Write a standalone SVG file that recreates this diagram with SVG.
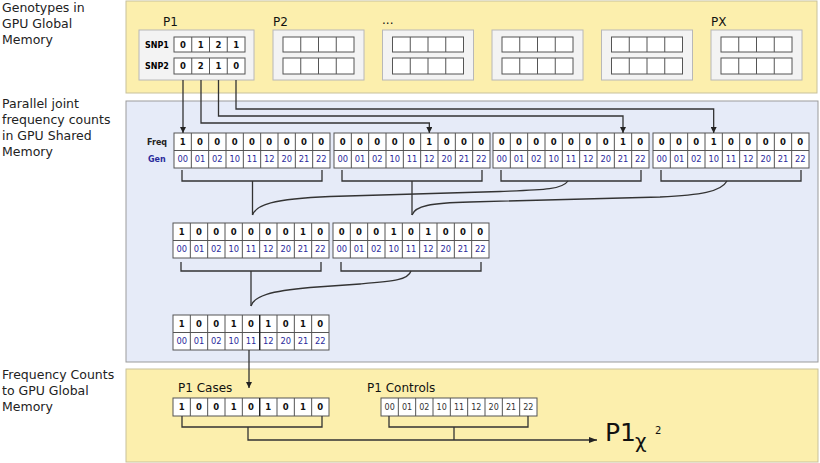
<svg xmlns="http://www.w3.org/2000/svg" xmlns:xlink="http://www.w3.org/1999/xlink" width="820" height="463" viewBox="0 0 820 463">
<style>
text{font-family:"DejaVu Sans","Liberation Sans",sans-serif}
.side{font-size:12.5px;fill:#222}
.plab{font-size:12px;fill:#111}
.v{font-size:8.5px;font-weight:bold;fill:#111;text-anchor:middle}
.g{font-size:8.3px;fill:#2b2b9c;text-anchor:middle}
.c{font-size:8px;fill:#333;text-anchor:middle}
.lbl{font-size:8px;font-weight:bold}
.grid rect{fill:#fff;stroke:#555;stroke-width:1}
.grid path{fill:none;stroke:#555;stroke-width:1}
.con{fill:none;stroke:#333;stroke-width:1.3}
.pbox{fill:#f3f3f3;stroke:#b8b8b8;stroke-width:1}
</style>
<defs>
<g id="g9" class="grid"><rect x="0" y="0" width="156" height="35"/><path d="M0 17.5H156M17.33 0V35M34.67 0V35M52 0V35M69.33 0V35M86.67 0V35M104 0V35M121.33 0V35M138.67 0V35"/></g>
<g id="g9s" class="grid"><rect x="0" y="0" width="156" height="18"/><path d="M17.33 0V18M34.67 0V18M52 0V18M69.33 0V18M86.67 0V18M104 0V18M121.33 0V18M138.67 0V18"/></g>
<g id="g4" class="grid"><rect x="0" y="0" width="71" height="15"/><rect x="0" y="21" width="71" height="16"/><path d="M17.75 0V15M35.5 0V15M53.25 0V15M17.75 21V37M35.5 21V37M53.25 21V37"/></g>
<marker id="ah" viewBox="0 0 6 6" refX="6" refY="3" markerWidth="6" markerHeight="6" markerUnits="userSpaceOnUse" orient="auto"><path d="M0 0L6 3L0 6z" fill="#222"/></marker>
<marker id="ahb" viewBox="0 0 8 6" refX="8" refY="3" markerWidth="8" markerHeight="6" markerUnits="userSpaceOnUse" orient="auto"><path d="M0 0L8 3L0 6z" fill="#222"/></marker>
</defs>

<g id="panels">
<rect x="126" y="1" width="691" height="92" fill="#fcefad" stroke="#c8c19c"/>
<rect x="126" y="101" width="692" height="261" fill="#e6ebf8" stroke="#9b9b9b"/>
<rect x="126" y="369" width="692" height="93" fill="#fcefad" stroke="#c8c19c"/>
</g>

<g id="side-labels">
<text class="side" x="2" y="12">Genotypes in</text>
<text class="side" x="2" y="28">GPU Global</text>
<text class="side" x="2" y="44">Memory</text>
<text class="side" x="2" y="108">Parallel joint</text>
<text class="side" x="2" y="124">frequency counts</text>
<text class="side" x="2" y="140">in GPU Shared</text>
<text class="side" x="2" y="156">Memory</text>
<text class="side" x="2" y="379">Frequency Counts</text>
<text class="side" x="2" y="395">to GPU Global</text>
<text class="side" x="2" y="411">Memory</text>
</g>

<g id="p1">
<text class="plab" x="163" y="25.5">P1</text>
<rect class="pbox" x="139" y="30" width="115" height="50"/>
<text class="lbl" x="145" y="47.5">SNP1</text>
<text class="lbl" x="145" y="69">SNP2</text>
<use href="#g4" x="174" y="37"/>
<text class="v" x="182.9" y="47.5">0</text><text class="v" x="200.6" y="47.5">1</text><text class="v" x="218.4" y="47.5">2</text><text class="v" x="236.1" y="47.5">1</text>
<text class="v" x="182.9" y="69">0</text><text class="v" x="200.6" y="69">2</text><text class="v" x="218.4" y="69">1</text><text class="v" x="236.1" y="69">0</text>
</g>
<g id="p2">
<text class="plab" x="273" y="25.5">P2</text>
<rect class="pbox" x="273" y="30" width="91" height="50"/>
<use href="#g4" x="283" y="37"/>
</g>
<g id="p3">
<text class="plab" x="382" y="24">...</text>
<rect class="pbox" x="382.5" y="30" width="91" height="50"/>
<use href="#g4" x="392.5" y="37"/>
</g>
<g id="p4">
<rect class="pbox" x="492" y="30" width="91" height="50"/>
<use href="#g4" x="502" y="37"/>
</g>
<g id="p5">
<rect class="pbox" x="601.5" y="30" width="91" height="50"/>
<use href="#g4" x="611.5" y="37"/>
</g>
<g id="px">
<text class="plab" x="711" y="25.5">PX</text>
<rect class="pbox" x="711" y="30" width="91" height="50"/>
<use href="#g4" x="721" y="37"/>
</g>

<g id="row-labels">
<text class="lbl" x="147" y="145" fill="#222">Freq</text>
<text class="lbl" x="148" y="162.3" fill="#2b2b9c">Gen</text>
</g>

<g id="a1">
<use href="#g9" x="174" y="133"/>
<text class="v" x="182.67" y="144.8">1</text><text class="v" x="200" y="144.8">0</text><text class="v" x="217.33" y="144.8">0</text><text class="v" x="234.67" y="144.8">0</text><text class="v" x="252" y="144.8">0</text><text class="v" x="269.33" y="144.8">0</text><text class="v" x="286.67" y="144.8">0</text><text class="v" x="304" y="144.8">0</text><text class="v" x="321.33" y="144.8">0</text>
<text class="g" x="182.67" y="162.3">00</text><text class="g" x="200" y="162.3">01</text><text class="g" x="217.33" y="162.3">02</text><text class="g" x="234.67" y="162.3">10</text><text class="g" x="252" y="162.3">11</text><text class="g" x="269.33" y="162.3">12</text><text class="g" x="286.67" y="162.3">20</text><text class="g" x="304" y="162.3">21</text><text class="g" x="321.33" y="162.3">22</text>
</g>
<g id="a2">
<use href="#g9" x="334" y="133"/>
<text class="v" x="342.67" y="144.8">0</text><text class="v" x="360" y="144.8">0</text><text class="v" x="377.33" y="144.8">0</text><text class="v" x="394.67" y="144.8">0</text><text class="v" x="412" y="144.8">0</text><text class="v" x="429.33" y="144.8">1</text><text class="v" x="446.67" y="144.8">0</text><text class="v" x="464" y="144.8">0</text><text class="v" x="481.33" y="144.8">0</text>
<text class="g" x="342.67" y="162.3">00</text><text class="g" x="360" y="162.3">01</text><text class="g" x="377.33" y="162.3">02</text><text class="g" x="394.67" y="162.3">10</text><text class="g" x="412" y="162.3">11</text><text class="g" x="429.33" y="162.3">12</text><text class="g" x="446.67" y="162.3">20</text><text class="g" x="464" y="162.3">21</text><text class="g" x="481.33" y="162.3">22</text>
</g>
<g id="a3">
<use href="#g9" x="493" y="133"/>
<text class="v" x="501.67" y="144.8">0</text><text class="v" x="519" y="144.8">0</text><text class="v" x="536.33" y="144.8">0</text><text class="v" x="553.67" y="144.8">0</text><text class="v" x="571" y="144.8">0</text><text class="v" x="588.33" y="144.8">0</text><text class="v" x="605.67" y="144.8">0</text><text class="v" x="623" y="144.8">1</text><text class="v" x="640.33" y="144.8">0</text>
<text class="g" x="501.67" y="162.3">00</text><text class="g" x="519" y="162.3">01</text><text class="g" x="536.33" y="162.3">02</text><text class="g" x="553.67" y="162.3">10</text><text class="g" x="571" y="162.3">11</text><text class="g" x="588.33" y="162.3">12</text><text class="g" x="605.67" y="162.3">20</text><text class="g" x="623" y="162.3">21</text><text class="g" x="640.33" y="162.3">22</text>
</g>
<g id="a4">
<use href="#g9" x="653" y="133"/>
<text class="v" x="661.67" y="144.8">0</text><text class="v" x="679" y="144.8">0</text><text class="v" x="696.33" y="144.8">0</text><text class="v" x="713.67" y="144.8">1</text><text class="v" x="731" y="144.8">0</text><text class="v" x="748.33" y="144.8">0</text><text class="v" x="765.67" y="144.8">0</text><text class="v" x="783" y="144.8">0</text><text class="v" x="800.33" y="144.8">0</text>
<text class="g" x="661.67" y="162.3">00</text><text class="g" x="679" y="162.3">01</text><text class="g" x="696.33" y="162.3">02</text><text class="g" x="713.67" y="162.3">10</text><text class="g" x="731" y="162.3">11</text><text class="g" x="748.33" y="162.3">12</text><text class="g" x="765.67" y="162.3">20</text><text class="g" x="783" y="162.3">21</text><text class="g" x="800.33" y="162.3">22</text>
</g>

<g id="b1">
<use href="#g9" x="173" y="223"/>
<text class="v" x="181.67" y="234.8">1</text><text class="v" x="199" y="234.8">0</text><text class="v" x="216.33" y="234.8">0</text><text class="v" x="233.67" y="234.8">0</text><text class="v" x="251" y="234.8">0</text><text class="v" x="268.33" y="234.8">0</text><text class="v" x="285.67" y="234.8">0</text><text class="v" x="303" y="234.8">1</text><text class="v" x="320.33" y="234.8">0</text>
<text class="g" x="181.67" y="252.3">00</text><text class="g" x="199" y="252.3">01</text><text class="g" x="216.33" y="252.3">02</text><text class="g" x="233.67" y="252.3">10</text><text class="g" x="251" y="252.3">11</text><text class="g" x="268.33" y="252.3">12</text><text class="g" x="285.67" y="252.3">20</text><text class="g" x="303" y="252.3">21</text><text class="g" x="320.33" y="252.3">22</text>
</g>
<g id="b2">
<use href="#g9" x="333" y="223"/>
<text class="v" x="341.67" y="234.8">0</text><text class="v" x="359" y="234.8">0</text><text class="v" x="376.33" y="234.8">0</text><text class="v" x="393.67" y="234.8">1</text><text class="v" x="411" y="234.8">0</text><text class="v" x="428.33" y="234.8">1</text><text class="v" x="445.67" y="234.8">0</text><text class="v" x="463" y="234.8">0</text><text class="v" x="480.33" y="234.8">0</text>
<text class="g" x="341.67" y="252.3">00</text><text class="g" x="359" y="252.3">01</text><text class="g" x="376.33" y="252.3">02</text><text class="g" x="393.67" y="252.3">10</text><text class="g" x="411" y="252.3">11</text><text class="g" x="428.33" y="252.3">12</text><text class="g" x="445.67" y="252.3">20</text><text class="g" x="463" y="252.3">21</text><text class="g" x="480.33" y="252.3">22</text>
</g>

<g id="c1">
<use href="#g9" x="173" y="315"/>
<line x1="259.67" y1="315" x2="259.67" y2="350" stroke="#222" stroke-width="1.4"/>
<text class="v" x="181.67" y="326.8">1</text><text class="v" x="199" y="326.8">0</text><text class="v" x="216.33" y="326.8">0</text><text class="v" x="233.67" y="326.8">1</text><text class="v" x="251" y="326.8">0</text><text class="v" x="268.33" y="326.8">1</text><text class="v" x="285.67" y="326.8">0</text><text class="v" x="303" y="326.8">1</text><text class="v" x="320.33" y="326.8">0</text>
<text class="g" x="181.67" y="344.3">00</text><text class="g" x="199" y="344.3">01</text><text class="g" x="216.33" y="344.3">02</text><text class="g" x="233.67" y="344.3">10</text><text class="g" x="251" y="344.3">11</text><text class="g" x="268.33" y="344.3">12</text><text class="g" x="285.67" y="344.3">20</text><text class="g" x="303" y="344.3">21</text><text class="g" x="320.33" y="344.3">22</text>
</g>

<g id="cases">
<text class="plab" x="178" y="392" font-size="12.5">P1 Cases</text>
<use href="#g9s" x="173" y="398"/>
<line x1="259.67" y1="398" x2="259.67" y2="416" stroke="#222" stroke-width="1.4"/>
<text class="v" x="181.67" y="410">1</text><text class="v" x="199" y="410">0</text><text class="v" x="216.33" y="410">0</text><text class="v" x="233.67" y="410">1</text><text class="v" x="251" y="410">0</text><text class="v" x="268.33" y="410">1</text><text class="v" x="285.67" y="410">0</text><text class="v" x="303" y="410">1</text><text class="v" x="320.33" y="410">0</text>
</g>
<g id="controls">
<text class="plab" x="367" y="392" font-size="12.5">P1 Controls</text>
<use href="#g9s" x="381" y="398"/>
<text class="c" x="389.67" y="409.8">00</text><text class="c" x="407" y="409.8">01</text><text class="c" x="424.33" y="409.8">02</text><text class="c" x="441.67" y="409.8">10</text><text class="c" x="459" y="409.8">11</text><text class="c" x="476.33" y="409.8">12</text><text class="c" x="493.67" y="409.8">20</text><text class="c" x="511" y="409.8">21</text><text class="c" x="528.33" y="409.8">22</text>
</g>

<g id="chi">
<text x="605" y="441" font-size="25" fill="#111">P1<tspan x="635" y="448" font-size="20">χ</tspan><tspan x="655" y="434" font-size="10">2</tspan></text>
</g>

<g id="connectors" class="con">
<path d="M183 80V133" marker-end="url(#ah)"/>
<path d="M201 80V123H429.33V133" marker-end="url(#ah)"/>
<path d="M218.5 80V116H623V133" marker-end="url(#ah)"/>
<path d="M236 80V109H713.67V133" marker-end="url(#ah)"/>
<path d="M182 170V181H322V170"/>
<path d="M342 170V181H482V170"/>
<path d="M501 170V181H641V170"/>
<path d="M661 170V181H801V170"/>
<path d="M252.5 181V215"/>
<path d="M412 181V215"/>
<path d="M568 181C562 190 540 190 500 191.5L330 196.5C272 199 256 205 252.5 215"/>
<path d="M727 181C721 192 700 195 660 197L470 202C430 203 415 206 412 215"/>
<path d="M181 262V271H321V262"/>
<path d="M341 262V271H481V262"/>
<path d="M251 271V306"/>
<path d="M411 271C408 280 395 281 360 284L310 287.5C270 291 254 296 251 306"/>
<path d="M249 350V388" marker-end="url(#ah)"/>
<path d="M182 416V427H322V416"/>
<path d="M389 416V427H528V416"/>
<path d="M248 427V440H597" marker-end="url(#ahb)"/>
<path d="M454 427V440"/>
</g>
</svg>
